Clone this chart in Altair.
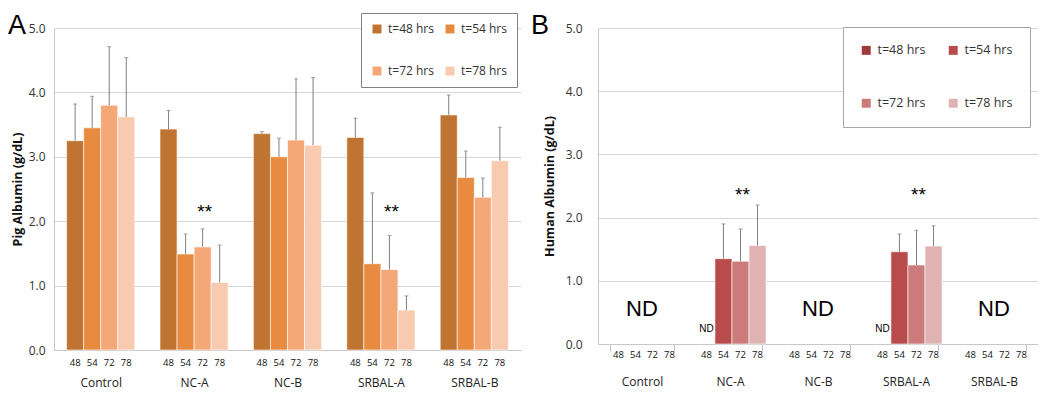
import altair as alt
import pandas as pd

groups = ["Control", "NC-A", "NC-B", "SRBAL-A", "SRBAL-B"]
times = ["48", "54", "72", "78"]
time_labels = ["t=48 hrs", "t=54 hrs", "t=72 hrs", "t=78 hrs"]

# Panel A: Pig albumin (g/dL), mean per time point for each group (order = groups)
pig_48 = [3.25, 3.43, 3.36, 3.30, 3.65]
pig_54 = [3.45, 1.49, 3.00, 1.34, 2.68]
pig_72 = [3.80, 1.60, 3.26, 1.25, 2.37]
pig_78 = [3.62, 1.05, 3.18, 0.62, 2.94]
# upward error (SD)
pig_sd_48 = [0.57, 0.29, 0.03, 0.30, 0.31]
pig_sd_54 = [0.49, 0.31, 0.29, 1.10, 0.41]
pig_sd_72 = [0.91, 0.28, 0.95, 0.53, 0.30]
pig_sd_78 = [0.92, 0.58, 1.05, 0.22, 0.52]

# Panel B: Human albumin (g/dL); only NC-A and SRBAL-A detected, t=48 ND
human_groups = ["NC-A", "SRBAL-A"]
human_times = ["54", "72", "78"]
human_nca = [1.35, 1.31, 1.56]
human_srbala = [1.46, 1.25, 1.55]
human_sd_nca = [0.55, 0.51, 0.64]
human_sd_srbala = [0.28, 0.55, 0.32]

nd_big_groups = ["Control", "NC-B", "SRBAL-B"]
nd_small_groups = ["NC-A", "SRBAL-A"]
star_groups = ["NC-A", "SRBAL-A"]

colors_a = ["#C07432", "#E88B40", "#F5A877", "#F8CBB1"]
colors_b = ["#A03A3A", "#B84B4B", "#CC7B7B", "#DFB3B3"]

FONT = "Open Sans"

# ---------- build tables ----------
rows_a = []
for t, lab, means, sds in zip(times, time_labels,
                              [pig_48, pig_54, pig_72, pig_78],
                              [pig_sd_48, pig_sd_54, pig_sd_72, pig_sd_78]):
    for g, m, s in zip(groups, means, sds):
        rows_a.append({"group": g, "time": t, "label": lab, "mean": m, "upper": round(m + s, 3)})
df_a = pd.DataFrame(rows_a)

rows_b = []
for g, means, sds in zip(human_groups, [human_nca, human_srbala], [human_sd_nca, human_sd_srbala]):
    for t, m, s in zip(human_times, means, sds):
        rows_b.append({"group": g, "time": t, "label": time_labels[times.index(t)],
                       "mean": m, "upper": round(m + s, 3)})
df_b = pd.DataFrame(rows_b)

df_ticks = pd.DataFrame([{"group": g, "time": t} for g in groups for t in times])
df_star_a = pd.DataFrame({"group": star_groups, "time": ["72", "72"], "y": [2.14, 2.14], "txt": ["**", "**"]})
df_star_b = pd.DataFrame({"group": star_groups, "time": ["72", "72"], "y": [2.36, 2.36], "txt": ["**", "**"]})
df_nd_big = pd.DataFrame({"group": nd_big_groups, "y": [0.56] * 3, "txt": ["ND"] * 3})
df_nd_small = pd.DataFrame({"group": nd_small_groups, "time": ["48", "48"], "y": [0.24, 0.24], "txt": ["ND", "ND"]})
df_letter_a = pd.DataFrame({"txt": ["A"]})
df_letter_b = pd.DataFrame({"txt": ["B"]})

# legend drawn column by column -> order so rows read 48,54 / 72,78
legend_order = [time_labels[0], time_labels[2], time_labels[1], time_labels[3]]

W_A, H_A = 467, 322
W_B, H_B = 440, 316


def panel(df, colors, width, height, ytitle, ylabpad, ytitlepad, with_ticks, xlabpad, legend_x, legend_y,
          legend_pad, legend_rowpad, legend_colpad, legend_font, legend_stroke, star_df, letter_df,
          letter_x, sub_dy, nd=False):
    xaxis = alt.Axis(title=None, labelAngle=0, labelFontSize=12, labelFont=FONT, labelColor="#222222",
                     domainColor="#c8c8c8", grid=False,
                     ticks=with_ticks, tickBand="extent", tickSize=7, tickColor="#c0c0c0",
                     labelPadding=xlabpad)
    xscale = alt.Scale(domain=groups, paddingInner=0.27, paddingOuter=0.135)
    X = alt.X("group:N", scale=xscale, axis=xaxis)
    XO = alt.XOffset("time:N", scale=alt.Scale(domain=times, paddingInner=0, paddingOuter=0))
    Y = alt.Y("mean:Q", scale=alt.Scale(domain=[0, 5], nice=False),
              axis=alt.Axis(title=ytitle, values=[0, 1, 2, 3, 4, 5], format=".1f", ticks=False,
                            labelPadding=ylabpad, titlePadding=ytitlepad, labelFontSize=12,
                            labelFont=FONT, labelColor="#333333", titleFont=FONT, titleFontSize=12.5,
                            titleFontWeight="bold", titleColor="#111111",
                            domainColor="#c8c8c8", gridColor="#d6d6d6"))
    color = alt.Color("label:N", scale=alt.Scale(domain=time_labels, range=colors),
                      legend=alt.Legend(title=None, orient="none", legendX=legend_x, legendY=legend_y,
                                        values=legend_order,
                                        columns=2, symbolType="square", symbolSize=80,
                                        symbolStrokeWidth=0, labelFontSize=legend_font, labelFont=FONT,
                                        labelColor="#333333", labelOffset=5, rowPadding=legend_rowpad,
                                        columnPadding=legend_colpad, padding=legend_pad,
                                        strokeColor=legend_stroke, fillColor="white"))

    bars = alt.Chart(df).mark_bar(stroke="white", strokeWidth=0.6).encode(x=X, xOffset=XO, y=Y, color=color)
    rules = alt.Chart(df).mark_rule(color="#7f7f7f", strokeWidth=1).encode(
        x=X, xOffset=XO, y="mean:Q", y2="upper:Q")
    caps = alt.Chart(df).mark_tick(color="#7f7f7f", size=4, thickness=1).encode(
        x=X, xOffset=XO, y="upper:Q")
    subs = alt.Chart(df_ticks).mark_text(fontSize=9.5, font=FONT, color="#111111", baseline="middle").encode(
        x=X, xOffset=XO, y=alt.value(height + sub_dy), text="time:N")
    stars = alt.Chart(star_df).mark_text(fontSize=19, font="Liberation Sans", color="#000000",
                                         baseline="middle", dx=2).encode(
        x=X, xOffset=XO, y=alt.Y("y:Q"), text="txt:N")
    letter = alt.Chart(letter_df).mark_text(fontSize=27, font="Liberation Sans", color="#000000",
                                            align="left", baseline="top").encode(
        x=alt.value(letter_x), y=alt.value(-15), text="txt:N")
    layers = [bars, rules, caps, subs, stars, letter]
    if nd:
        big = alt.Chart(df_nd_big).mark_text(fontSize=22, font="Liberation Sans", color="#000000",
                                             baseline="middle").encode(
            x=X, y=alt.Y("y:Q"), text="txt:N")
        small = alt.Chart(df_nd_small).mark_text(fontSize=10, font="Liberation Sans", color="#000000",
                                                 baseline="middle").encode(
            x=X, xOffset=XO, y=alt.Y("y:Q"), text="txt:N")
        layers += [big, small]
    return alt.layer(*layers).properties(width=width, height=height)


chart_a = panel(df_a, colors_a, W_A, H_A, "Pig Albumin (g/dL)", 9, 4, False, 27, 307, -15,
                10, 30, 10, 12, "#808080", df_star_a, df_letter_a, -46, 13)
chart_b = panel(df_b, colors_b, W_B, H_B, "Human Albumin (g/dL)", 16, 9, True, 25, 245, -1,
                17, 40, 21, 12.5, "#a6a6a6", df_star_b, df_letter_b, -67, 11, nd=True)

chart = alt.hconcat(chart_a, chart_b, spacing=10).resolve_scale(
    color="independent", x="independent", y="independent"
).resolve_legend(color="independent").properties(
    padding={"left": 0, "top": 4, "right": 0, "bottom": 4}
).configure_view(stroke=None).configure_axis(gridColor="#d6d6d6")

chart.save("out.html", embed_options={"renderer": "svg", "actions": False})
